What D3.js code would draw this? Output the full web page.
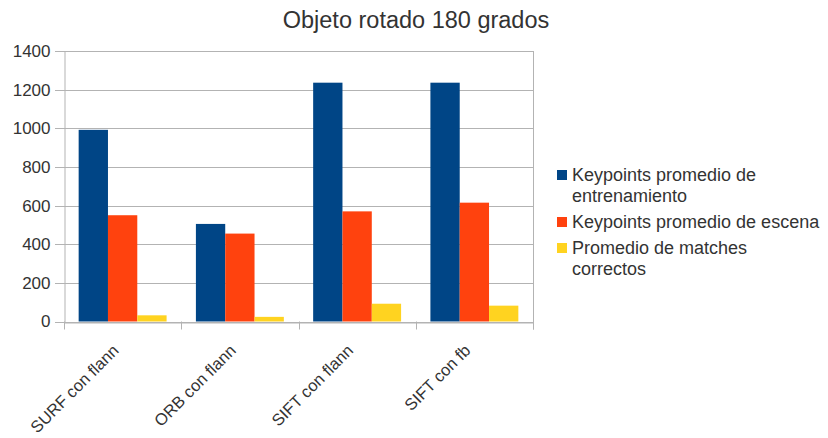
<!DOCTYPE html>
<html>
<head>
<meta charset="utf-8">
<script src="https://cdn.jsdelivr.net/npm/d3@7"></script>
<style>
  body { margin: 0; background: #fff; }
  text { font-family: "Liberation Sans", Arial, sans-serif; fill: #333; }
</style>
</head>
<body>
<div id="chart"></div>
<script>
const WIDTH = 828;
const HEIGHT = 438;

// data
const categories = ["SURF con flann", "ORB con flann", "SIFT con flann", "SIFT con fb"];
const seriesNames = ["Keypoints promedio de entrenamiento", "Keypoints promedio de escena", "Promedio de matches correctos"];
const entrenamiento = [992, 505, 1236, 1236];
const escena = [550, 455, 570, 615];
const matches = [32, 24, 92, 82];
const yTicks = [0, 200, 400, 600, 800, 1000, 1200, 1400];
const legendLines = [["Keypoints promedio de", "entrenamiento"], ["Keypoints promedio de escena"], ["Promedio de matches", "correctos"]];
const colors = ["#004586", "#ff420e", "#ffd320"];

const seriesValues = [entrenamiento, escena, matches];

const plot = {left: 64, right: 533, top: 51, bottom: 321.5};

const svg = d3.select("#chart").append("svg")
  .attr("width", WIDTH)
  .attr("height", HEIGHT);

const x0 = d3.scaleBand()
  .domain(categories)
  .range([plot.left, plot.right])
  .paddingInner(0.25)
  .paddingOuter(0.125);

const x1 = d3.scaleBand()
  .domain(d3.range(seriesNames.length))
  .range([0, x0.bandwidth()]);

const y = d3.scaleLinear()
  .domain([0, 1400])
  .range([plot.bottom, plot.top]);

// grid
svg.append("g")
  .selectAll("line")
  .data(yTicks)
  .enter().append("line")
  .attr("x1", plot.left - 9)
  .attr("x2", plot.right)
  .attr("y1", d => Math.round(y(d)) + 0.5)
  .attr("y2", d => Math.round(y(d)) + 0.5)
  .attr("stroke", "#b3b3b3");

// right border
svg.append("line")
  .attr("x1", plot.right + 0.5).attr("x2", plot.right + 0.5)
  .attr("y1", plot.top).attr("y2", plot.bottom + 8)
  .attr("stroke", "#b3b3b3");

// y axis
const yAxis = d3.axisLeft(y).tickValues(yTicks).tickSize(0).tickPadding(14).tickFormat(d3.format("d"));
svg.append("g")
  .attr("transform", "translate(" + (plot.left + 0.5) + ",0)")
  .call(yAxis)
  .call(g => g.select(".domain").attr("stroke", "#b3b3b3"))
  .selectAll("text")
  .style("font-size", "17px")
  .attr("fill", "#333");

// bars
const groups = svg.append("g")
  .selectAll("g")
  .data(categories)
  .enter().append("g")
  .attr("transform", d => "translate(" + x0(d) + ",0)");

groups.selectAll("rect")
  .data((d, i) => seriesValues.map((vals, s) => ({s: s, v: vals[i]})))
  .enter().append("rect")
  .attr("x", d => x1(d.s))
  .attr("width", x1.bandwidth())
  .attr("y", d => y(d.v))
  .attr("height", d => y(0) - y(d.v))
  .attr("fill", d => colors[d.s]);

// x axis
const xAxis = d3.axisBottom(x0).tickSize(0).tickFormat("");
svg.append("g")
  .attr("transform", "translate(0," + (Math.round(plot.bottom) + 0.5) + ")")
  .call(xAxis)
  .call(g => g.select(".domain").attr("stroke", "#b3b3b3"));

// x tick marks at category boundaries
const bounds = categories.map(c => x0(c) - x0.step() * 0.125).concat([plot.right]);
svg.append("g")
  .selectAll("line")
  .data(bounds)
  .enter().append("line")
  .attr("x1", d => Math.round(d) + 0.5)
  .attr("x2", d => Math.round(d) + 0.5)
  .attr("y1", plot.bottom)
  .attr("y2", plot.bottom + 8)
  .attr("stroke", "#b3b3b3");

// x labels rotated
svg.append("g")
  .selectAll("text")
  .data(categories)
  .enter().append("text")
  .attr("transform", d => "translate(" + (x0(d) + x0.bandwidth() / 2 - 7) + "," + (plot.bottom + 26) + ") rotate(-45)")
  .attr("text-anchor", "end")
  .attr("dy", "0.35em")
  .style("font-size", "16.5px")
  .text(d => d);

// title
svg.append("text")
  .attr("x", 416)
  .attr("y", 28)
  .attr("text-anchor", "middle")
  .style("font-size", "23.5px")
  .text("Objeto rotado 180 grados");

// legend
const legendRows = [175, 222, 248];
const legend = svg.append("g");
legendLines.forEach((lines, i) => {
  legend.append("rect")
    .attr("x", 557)
    .attr("y", legendRows[i] - 5)
    .attr("width", 10)
    .attr("height", 10)
    .attr("fill", colors[i]);
  lines.forEach((t, j) => {
    legend.append("text")
      .attr("x", 572)
      .attr("y", legendRows[i] + j * 21)
      .attr("dy", "0.35em")
      .style("font-size", "18px")
      .text(t);
  });
});
</script>
</body>
</html>
